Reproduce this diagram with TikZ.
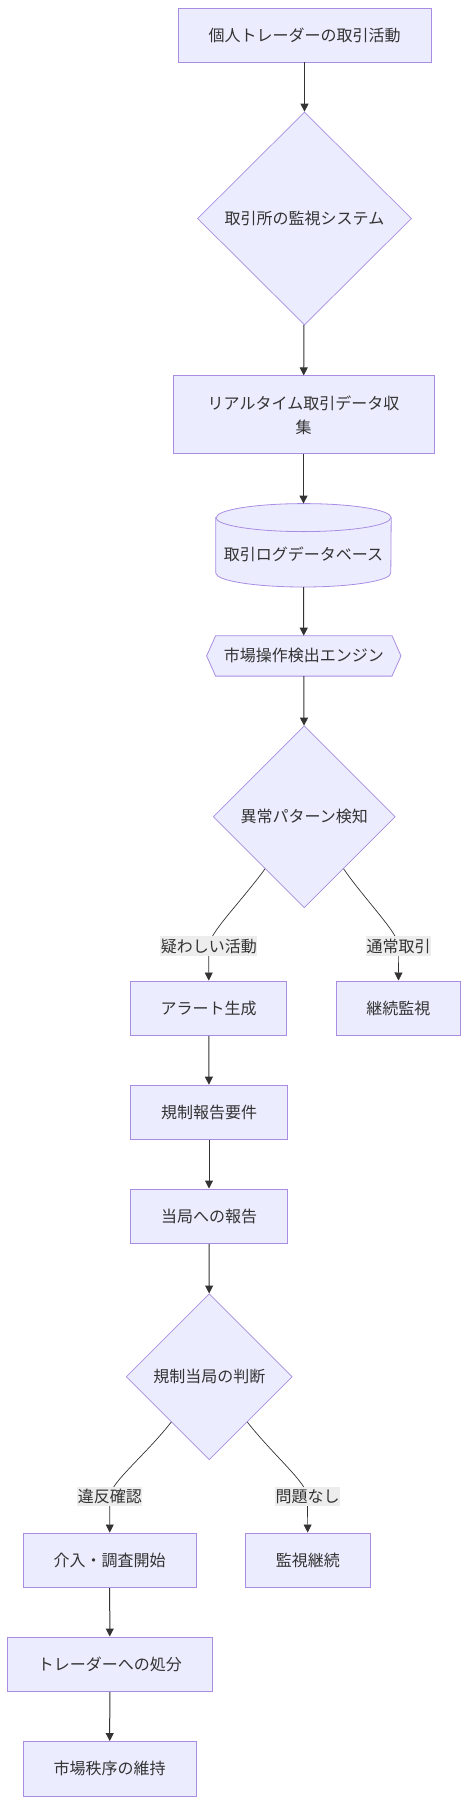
\documentclass[tikz,border=0pt]{standalone}
\usepackage{fontspec}
\setmainfont{Noto Sans CJK JP}
\usepackage{tikz}
\usetikzlibrary{arrows.meta,calc,shapes.geometric,backgrounds}
\definecolor{nodefill}{HTML}{ECECFF}
\definecolor{nodeline}{HTML}{9370DB}
\definecolor{edgeline}{HTML}{333333}
\definecolor{lblfill}{HTML}{EDEDED}
\newcommand{\flowfont}{\fontsize{16}{24}\selectfont}
\tikzset{every picture/.append style={x=1pt,y=1pt}}
\tikzset{proc/.style={rectangle, draw=nodeline!80, fill=nodefill, line width=0.9pt, text=edgeline, minimum height=54.7pt, inner sep=0pt, font=\flowfont, align=center}}
\tikzset{decision/.style={diamond, draw=nodeline!80, fill=nodefill, line width=0.7pt, aspect=1, inner sep=0pt, text=edgeline, font=\flowfont}}
\tikzset{shapebox/.style={rectangle, inner sep=0pt, text=edgeline, font=\flowfont}}
\tikzset{shapeline/.style={draw=nodeline!80, fill=nodefill, line width=0.8pt}}
\tikzset{flow/.style={-{Triangle[length=8pt,width=8pt]}, draw=edgeline, line width=1pt}}
\tikzset{branch/.style={flow, line width=0.7pt, out looseness=1.1, in looseness=0.35}}
\tikzset{elabel/.style={fill=lblfill, text=edgeline, inner xsep=0.5pt, inner ysep=2.5pt, font=\flowfont}}

\begin{document}
\begin{tikzpicture}
\useasboundingbox (0,0) rectangle (469,-1804);
\node (trade) at (304.5,-35)[proc, minimum width=253pt, minimum height=54pt]{個人トレーダーの取引活動};
\node (watch) at (304.5,-218.5)[decision, minimum width=214pt, minimum height=213pt]{取引所の監視システム};
\node (collect) at (303.5,-414.9)[proc, minimum width=261pt, minimum height=78pt]{リアルタイム取引データ収\\集};
\node (db) at (303.5,-545.3)[shapebox, minimum width=175pt, minimum height=83pt]{};
\node (dbtext) at ($(db.center)+(0,-9)$)[shapebox]{取引ログデータベース};
\node (engine) at (303.8,-655.9)[shapebox, minimum width=194pt, minimum height=40pt]{市場操作検出エンジン};
\node (detect) at (304.3,-816.7)[decision, minimum width=182pt, minimum height=182pt]{異常パターン検知};
\node (alert) at (208.7,-1008.3)[proc, minimum width=156pt]{アラート生成};
\node (keep) at (398.3,-1008.3)[proc, minimum width=123.3pt]{継続監視};
\node (require) at (209,-1112.5)[proc, minimum width=156.6pt]{規制報告要件};
\node (report) at (209,-1216.3)[proc, minimum width=156.6pt]{当局への報告};
\node (judge) at (209.3,-1376.7)[decision, minimum width=166pt, minimum height=166pt]{規制当局の判断};
\node (probe) at (109.7,-1560.3)[proc, minimum width=172.7pt]{介入・調査開始};
\node (still) at (307.8,-1560.3)[proc, minimum width=124.3pt]{監視継続};
\node (penalty) at (109.8,-1664.3)[proc, minimum width=204.3pt]{トレーダーへの処分};
\node (order) at (109.7,-1768.8)[proc, minimum width=172.7pt]{市場秩序の維持};

%outlines of the database and the engine, behind their text
\begin{scope}[on background layer]
\filldraw[shapeline] ($(db.north west)+(0,-14)$) -- ($(db.south west)+(0,14)$)
  arc[start angle=180, end angle=360, x radius=87.5pt, y radius=14pt]
  -- ($(db.north east)+(0,-14)$)
  arc[start angle=0, end angle=180, x radius=87.5pt, y radius=14pt] -- cycle;
\draw[shapeline, fill=none] ($(db.north west)+(0,-14)$)
  arc[start angle=180, end angle=360, x radius=87.5pt, y radius=14pt];
\filldraw[shapeline] (engine.west) -- ($(engine.north west)+(9,0)$) -- ($(engine.north east)+(-9,0)$)
  -- (engine.east) -- ($(engine.south east)+(-9,0)$) -- ($(engine.south west)+(9,0)$) -- cycle;
\end{scope}

\coordinate (suspl) at (208.8,-946.3);
\coordinate (normall) at (398.7,-946.3);
\coordinate (violl) at (109.8,-1496.5);
\coordinate (okl) at (307.5,-1496.5);

\draw[flow] (trade)--(watch);
\draw[flow] (watch)--(collect);
\draw[flow] (collect)--(db);
\draw[flow] (db)--(engine);
\draw[flow] (engine)--(detect);
\draw[branch] (detect.-127) to[out=-126,in=90] (suspl) node[elabel]{疑わしい活動} -- (alert);
\draw[branch] (detect.-53) to[out=-55,in=90] (normall) node[elabel]{通常取引} -- (keep);
\draw[flow] (alert)--(require);
\draw[flow] (require)--(report);
\draw[flow] (report)--(judge);
\draw[branch] (judge.-130) to[out=-128,in=90] (violl) node[elabel]{違反確認} -- (probe);
\draw[branch] (judge.-50) to[out=-52,in=90] (okl) node[elabel]{問題なし} -- (still);
\draw[flow] (probe)--(penalty);
\draw[flow] (penalty)--(order);

\end{tikzpicture}
\end{document}
